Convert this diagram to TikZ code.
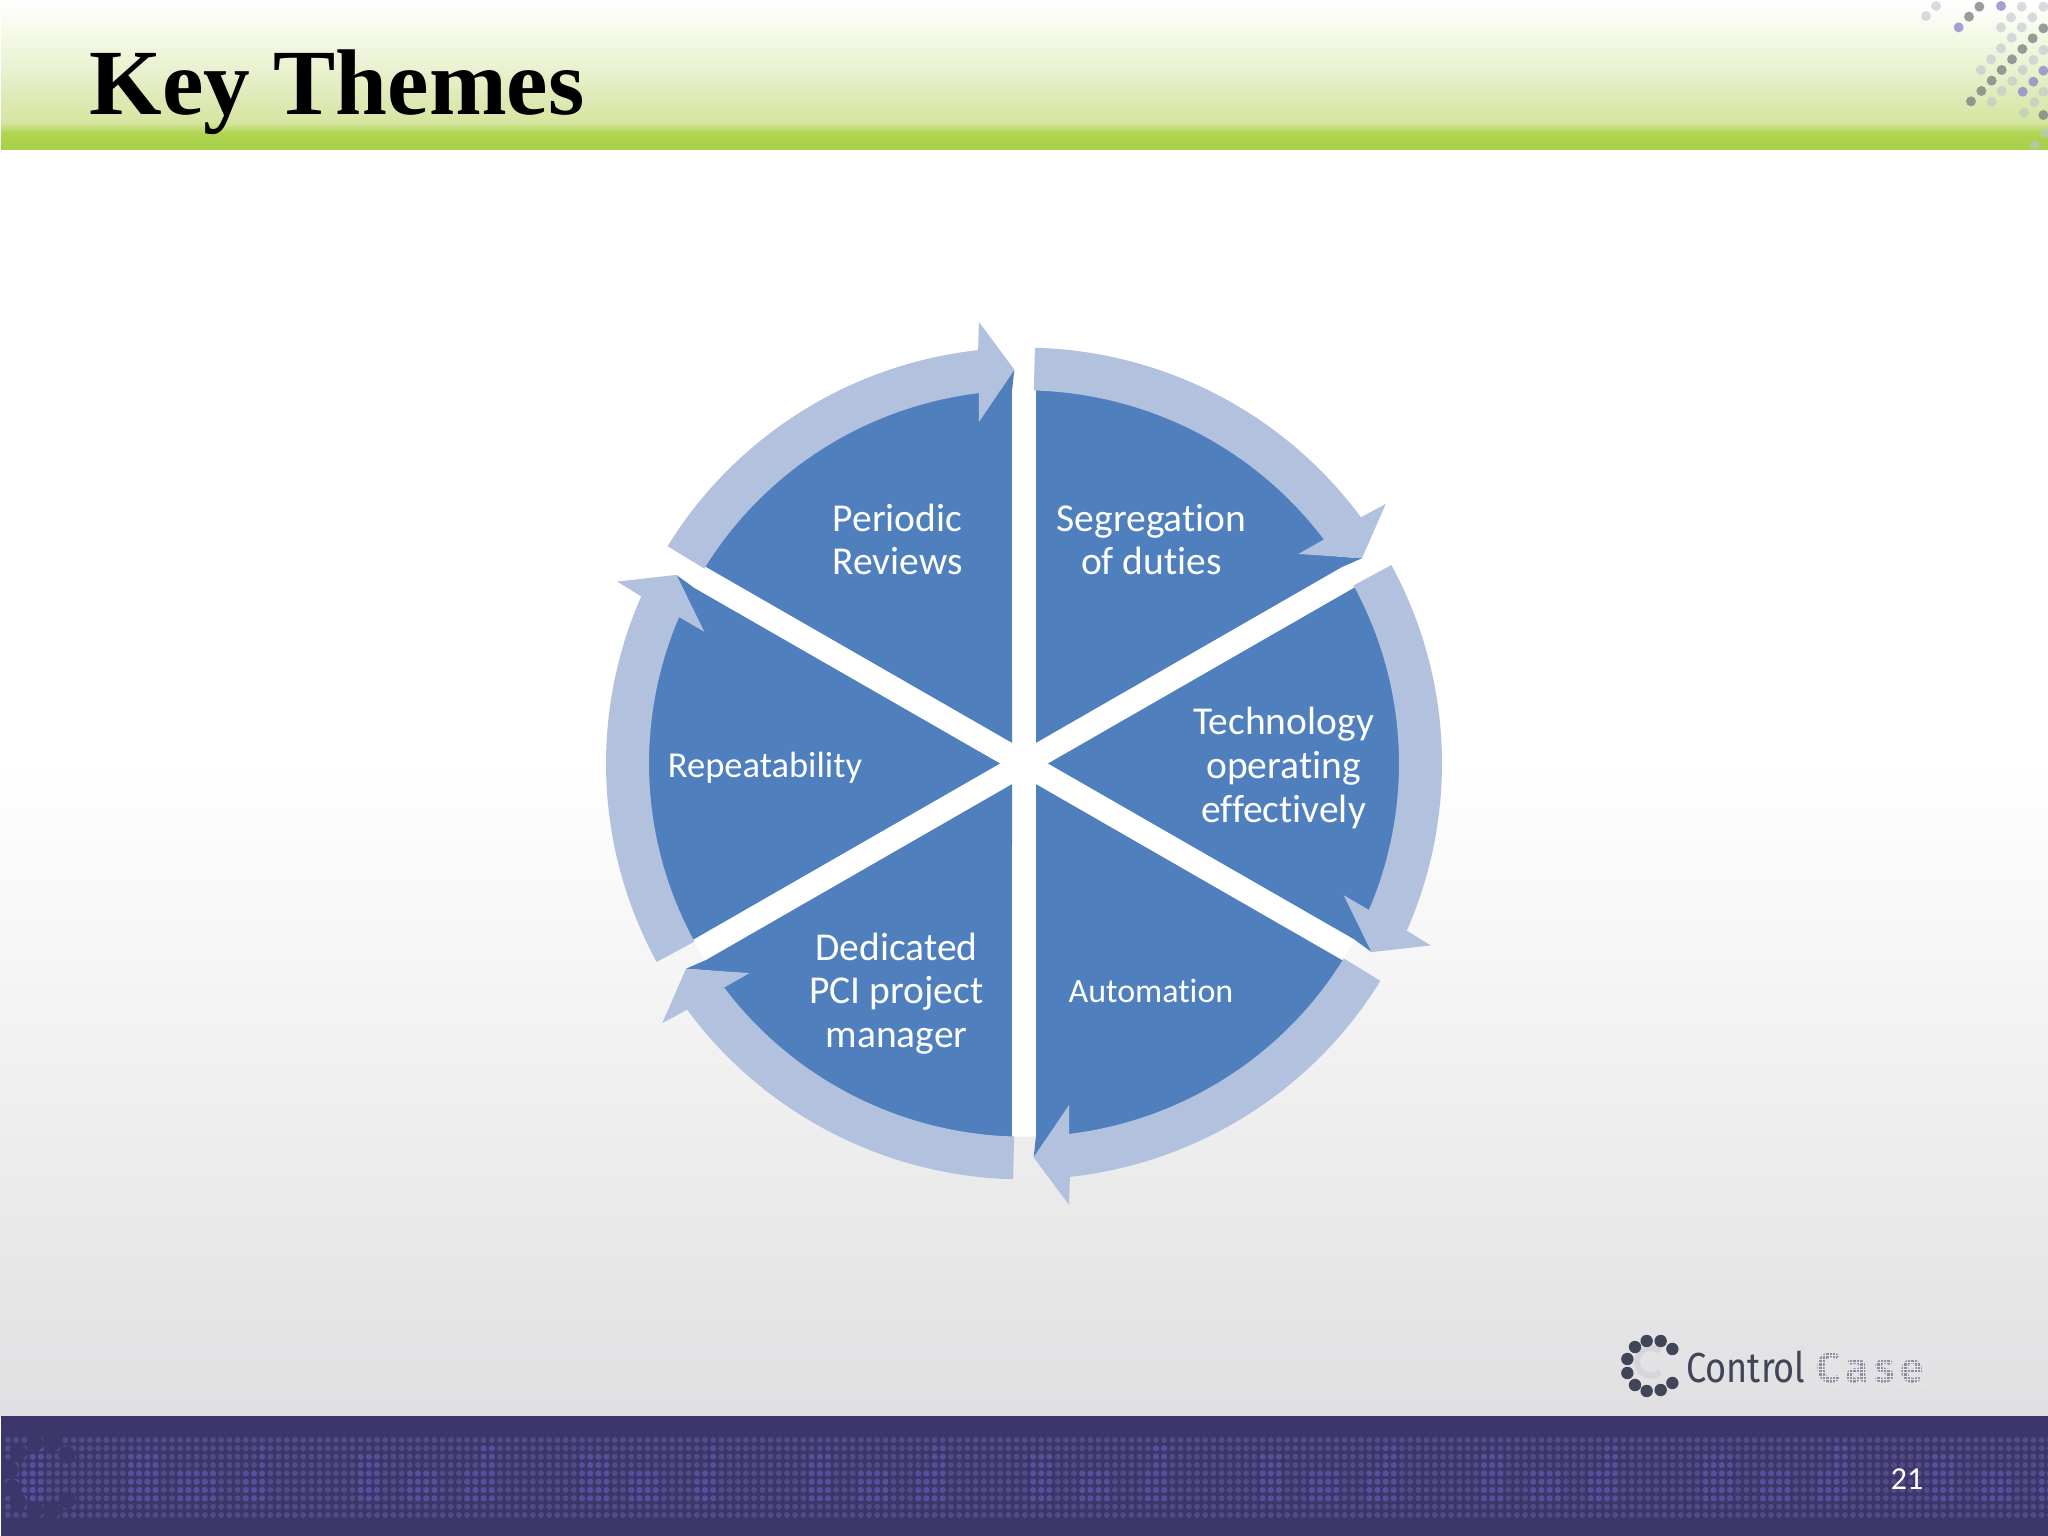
\documentclass[tikz,border=0pt]{standalone}
\usepackage{fontspec}
\setmainfont{Carlito}[Ligatures=NoCommon]
\newfontfamily\titlefont{Liberation Serif}
\newfontfamily\logofont{Fira Sans}
\newfontfamily\logodots{Fira Sans}[LetterSpace=14]
\definecolor{pieblue}{RGB}{79,128,189}
\definecolor{ringblue}{RGB}{178,193,221}
\definecolor{footbg}{RGB}{61,54,107}
\definecolor{footdot}{RGB}{83,75,136}
\definecolor{footdotb}{RGB}{88,78,156}
\definecolor{logodark}{RGB}{65,69,88}
\definecolor{logodotc}{RGB}{140,142,160}
\definecolor{logolight}{RGB}{212,214,218}
\definecolor{bgbottom}{RGB}{224,224,226}
\definecolor{logobg}{RGB}{227,227,229}
\definecolor{hdrgray}{RGB}{120,124,128}
\definecolor{hdrblue}{RGB}{140,140,200}
\definecolor{hdrlight}{RGB}{190,195,205}
\definecolor{hA}{RGB}{168,208,76}
\definecolor{hB}{RGB}{170,210,74}
\definecolor{hC}{RGB}{176,214,84}
\definecolor{hD}{RGB}{214,230,160}
\definecolor{hE}{RGB}{221,233,181}
\definecolor{hF}{RGB}{234,242,210}
\definecolor{hG}{RGB}{245,249,232}
\pgfdeclareverticalshading{hdrshade}{100bp}{
  color(0bp)=(hA);
  color(25bp)=(hA);
  color(28bp)=(hB);
  color(30.7bp)=(hC);
  color(34.3bp)=(hD);
  color(41.7bp)=(hE);
  color(52.7bp)=(hF);
  color(64bp)=(hG);
  color(74bp)=(white);
  color(100bp)=(white)}
\tikzset{
  sector/.style={fill=pieblue,draw=none},
  ringarrow/.style={fill=ringblue,draw=none},
  lab/.style={text=white,align=center,font=\fontsize{39.5}{43.7}\selectfont,inner sep=0pt},
  labauto/.style={text=white,align=center,font=\fontsize{34}{40}\selectfont,inner sep=0pt},
  labrep/.style={text=white,align=center,font=\fontsize{36.5}{40}\selectfont,inner sep=0pt}
}
\begin{document}
\begin{tikzpicture}[x=1pt,y=-1pt]
\useasboundingbox (0,0) rectangle (2048,1536);
\fill[white] (0,0) rectangle (2048,1536);
% backgrounds
\shade[top color=white,bottom color=bgbottom] (0,760) rectangle (2048,1417);
\shade[shading=hdrshade] (1,0) rectangle (2048,150);
\fill[footbg] (1,1416) rectangle (2048,1536);
% footer dots
\foreach \c in {0,...,249}{
  \pgfmathsetmacro{\px}{8+8.2*\c}
  \pgfmathsetmacro{\p}{mod(\px+95,225)}
  \foreach \r in {0,...,9}{
    \pgfmathtruncatemacro{\bright}{((\p<27 && \r>=2 && \r<=7) || (\p>=50 && \p<83 && \r>=4 && \r<=7) || (\p>=110 && \p<140 && \r>=4 && \r<=7) || (\p>=125 && \p<140 && \r>=1 && \r<=3)) ? 1 : 0}
    \ifnum\bright=1
      \fill[footdotb] (\px,{1440+8.33*\r}) circle (3.1);
    \else
      \fill[footdot] (\px,{1440+8.33*\r}) circle (3);
    \fi
  }
}
% faint logo in the footer
\foreach \a/\b in {18/52,35/43,52/43,67/55,10/70,12/88,18/102,35/110,52/110,67/100}
  \fill[footbg] (\a,1400+\b) circle (8.5);
% header dots
\foreach \a/\b in {538/20,507/50,730/85,698/115,667/147,636/178,605/210,575/242,544/273,513/304,730/345}
  \fill[hdrgray,opacity=.75] ({1800+\a/3},{\b/3}) circle (5);
\foreach \a/\b in {700/245,668/275,730/212,476/82,603/18}
  \fill[hdrblue,opacity=.8] ({1800+\a/3},{\b/3}) circle (5);
\foreach \a/\b in {408/18,378/48,665/20,633/52,697/52,603/82,665/82,635/113,603/145,730/150,573/178,700/180,543/210,668/210,637/243,605/273,575/305,730/275,703/307,672/338,730/20,735/400,705/435}
  \fill[hdrlight,opacity=.6] ({1800+\a/3},{\b/3}) circle (5);
% title
\node[anchor=base west,inner sep=0pt,font=\fontsize{93.3}{95}\selectfont\titlefont\bfseries] (title) at (89.5,115) {Key Themes};
% wheel
\begin{scope}[shift={(1024,763.5)},x=1pt,y=1pt,yscale=.995]
  \fill[white] (0,0) circle (375);
  \foreach \m in {60,0,-60,-120,-180,-240}{
    \fill[sector] (\m:24) -- ({\m-28.16}:376) arc[start angle={\m-28.16},end angle={\m+28.16},radius=376] -- cycle;
  }
  \foreach \k in {0,...,5}{
    \begin{scope}[rotate={-60*\k}]
      \fill[sector] (37.5:346) -- (31.4:396) -- (31.8:376) -- cycle;
      \fill[ringarrow] (88.5:418) arc[start angle=88.5,end angle=36.3,radius=418]
        -- (35.8:446) -- (31.4:396) -- (37.5:346) -- (36.9:375)
        arc[start angle=36.9,end angle=88.5,radius=375] -- cycle;
    \end{scope}
  }
\end{scope}
% labels
\node[lab] (periodic) at (897.5,539.5) {Periodic\\Reviews};
\node[lab] (segregation) at (1151.5,539.5) {Segregation\\of duties};
\node[lab] (technology) at (1283.5,768) {Technology\\operating\\effectively};
\node[labauto] (automation) at (1151,991) {Automation};
\node[lab] (dedicated) at (896.5,993.5) {Dedicated\\PCI project\\manager};
\node[labrep] (repeat) at (765,768) {Repeatability};
% ControlCase logo
\draw[logolight,line width=6pt] (1660,1351) arc[start angle=-50,end angle=-310,radius=14];
\foreach \a/\b in {260/123,302/123,337/147,225/141,202/177,202/219,225/255,260/273,302/270,337/249}
  \fill[logodark] ({1560+\a/3},{1300+\b/3}) circle (6.2);
\node[anchor=base west,inner sep=0pt,text=logodark,xscale=.86,font=\fontsize{42}{42}\selectfont\logofont] (control) at (1686,1382) {Control};
\node[anchor=base west,inner sep=0pt,text=logodotc,font=\fontsize{42}{42}\selectfont\logodots\bfseries] (case) at (1816,1382) {Case};
\foreach \g in {0,...,11}
  \draw[logobg,line width=.9pt] (1812,{1349+3.4*\g}) -- (1930,{1349+3.4*\g});
\foreach \g in {0,...,34}
  \draw[logobg,line width=.9pt] ({1812+3.4*\g},1348) -- ({1812+3.4*\g},1388);
% page number
\node[text=white,inner sep=0pt,font=\fontsize{32}{32}\selectfont] (pagenum) at (1907,1479) {21};
\end{tikzpicture}
\end{document}
